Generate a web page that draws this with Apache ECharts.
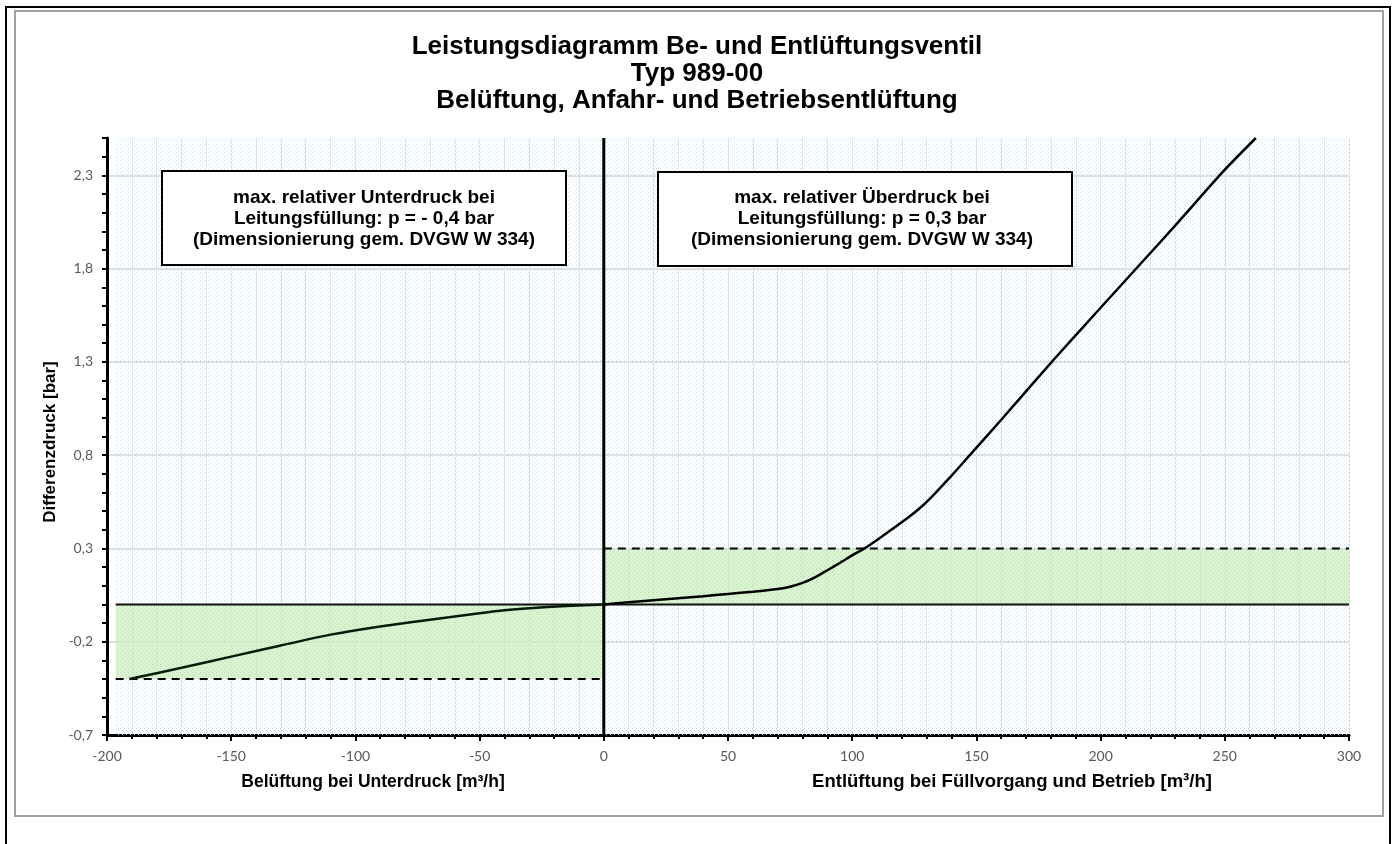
<!DOCTYPE html>
<html>
<head>
<meta charset="utf-8">
<title>Leistungsdiagramm Typ 989-00</title>
<script src="https://cdn.jsdelivr.net/npm/echarts@6/dist/echarts.min.js"></script>
<style>
  html, body { margin: 0; padding: 0; background: #fff; }
  #main { width: 1394px; height: 844px; }
</style>
</head>
<body>
<div id="main"></div>
<script>
// Belüftung (Unterdruck): Volumenstrom [m³/h] und Differenzdruck [bar]
var BELUEFTUNG_Q  = [-191, -170, -150, -130, -110, -90, -70, -50, -40, -30, -15, 0];
var BELUEFTUNG_DP = [-0.40, -0.34, -0.28, -0.22, -0.162, -0.118, -0.082, -0.047, -0.031, -0.02, -0.008, 0];

// Entlüftung (Füllvorgang und Betrieb)
var ENTLUEFTUNG_Q  = [0, 10, 20, 30, 40, 50, 60, 70, 75, 80, 85, 90, 95, 100, 105, 110, 115, 122, 128, 133, 140, 146, 160, 181, 200, 215, 230, 250, 262.5];
var ENTLUEFTUNG_DP = [0, 0.011, 0.022, 0.033, 0.044, 0.056, 0.068, 0.083, 0.095, 0.115, 0.145, 0.183, 0.222, 0.263, 0.3, 0.345, 0.393, 0.46, 0.525, 0.59, 0.69, 0.78, 0.99, 1.31, 1.59, 1.81, 2.03, 2.33, 2.5];

// Grenzwerte nach DVGW W 334
var P_UNTERDRUCK = -0.4;
var P_UEBERDRUCK = 0.3;

// Achsen
var X_MIN = -200, X_MAX = 300, X_FILL_START = -196.5;
var Y_MIN = -0.7, Y_MAX = 2.5;
var Y_TICK_LABELS = [-0.7, -0.2, 0.3, 0.8, 1.3, 1.8, 2.3];

var TEXT_FONT = '"Liberation Sans", Arial, sans-serif';
var TICK_FONT = 'Lato, "Open Sans", sans-serif';

function zip(a, b) {
  var out = [];
  for (var i = 0; i < a.length; i++) out.push([a[i], b[i]]);
  return out;
}

// Punktraster wie im Excel-Muster
function dotPattern(bg, dot) {
  var c = document.createElement('canvas');
  c.width = 4; c.height = 4;
  var ctx = c.getContext('2d');
  if (bg) { ctx.fillStyle = bg; ctx.fillRect(0, 0, 4, 4); }
  ctx.fillStyle = dot;
  ctx.fillRect(0, 0, 1, 1);
  ctx.fillRect(2, 2, 1, 1);
  return { image: c, repeat: 'repeat' };
}
var bluePattern = dotPattern(null, '#bfe5f4');
var greenPattern = dotPattern('rgba(205,240,192,0.7)', 'rgba(150,215,130,0.55)');

var chart = echarts.init(document.getElementById('main'));

var option = {
  backgroundColor: '#fff',
  animation: false,
  title: {
    text: 'Leistungsdiagramm Be- und Entlüftungsventil\nTyp 989-00\nBelüftung, Anfahr- und Betriebsentlüftung',
    left: 'center',
    top: 28,
    textStyle: {
      fontFamily: TEXT_FONT,
      fontWeight: 'bold',
      fontSize: 26,
      lineHeight: 27,
      color: '#000'
    }
  },
  grid: { left: 107, right: 45, top: 138, bottom: 109 },
  xAxis: {
    type: 'value',
    min: X_MIN,
    max: X_MAX,
    interval: 50,
    axisLine: { onZero: false, lineStyle: { color: '#000', width: 3 } },
    axisTick: { show: true, length: 6, lineStyle: { color: '#000', width: 2 } },
    minorTick: { show: true, splitNumber: 5, length: 4, lineStyle: { color: '#000', width: 2 } },
    splitLine: { show: true, lineStyle: { color: '#e4e4e4', width: 1 } },
    minorSplitLine: { show: true, lineStyle: { color: '#e4e4e4', width: 1 } },
    axisLabel: {
      margin: 14,
      color: '#595959',
      fontFamily: TICK_FONT,
      fontSize: 14
    }
  },
  yAxis: {
    type: 'value',
    min: Y_MIN,
    max: Y_MAX,
    interval: 0.1,
    axisLine: { onZero: false, lineStyle: { color: '#000', width: 3 } },
    axisTick: { show: true, length: 5, lineStyle: { color: '#000', width: 2 } },
    splitLine: {
      show: true,
      lineStyle: { color: ['#d4d4d4', 'transparent', 'transparent', 'transparent', 'transparent'], width: 1.5 }
    },
    axisLabel: {
      margin: 14,
      color: '#595959',
      fontFamily: TICK_FONT,
      fontSize: 14,
      formatter: function (v) {
        for (var i = 0; i < Y_TICK_LABELS.length; i++) {
          if (Math.abs(Y_TICK_LABELS[i] - v) < 1e-6) return v.toFixed(1).replace('.', ',');
        }
        return '';
      }
    }
  },
  series: [
    {
      name: 'Nulllinie',
      type: 'line',
      data: [[X_FILL_START, 0], [X_MAX, 0]],
      symbol: 'none',
      lineStyle: { color: '#111', width: 2 },
      silent: true,
      markArea: {
        silent: true,
        data: [
          [{ coord: [X_FILL_START, Y_MIN], itemStyle: { color: bluePattern } }, { coord: [X_MAX, Y_MAX] }],
          [{ coord: [X_FILL_START, P_UNTERDRUCK], itemStyle: { color: greenPattern } }, { coord: [0, 0] }],
          [{ coord: [0, 0], itemStyle: { color: greenPattern } }, { coord: [X_MAX, P_UEBERDRUCK] }]
        ]
      }
    },
    {
      name: 'Grenze Unterdruck',
      type: 'line',
      data: [[X_FILL_START, P_UNTERDRUCK], [0, P_UNTERDRUCK]],
      symbol: 'none',
      lineStyle: { color: '#000', width: 2, type: [8, 6] }
    },
    {
      name: 'Grenze Überdruck',
      type: 'line',
      data: [[0, P_UEBERDRUCK], [X_MAX, P_UEBERDRUCK]],
      symbol: 'none',
      lineStyle: { color: '#000', width: 2, type: [8, 6] }
    },
    {
      name: 'Achse 0',
      type: 'line',
      data: [[0, Y_MIN], [0, Y_MAX]],
      symbol: 'none',
      lineStyle: { color: '#000', width: 3 }
    },
    {
      name: 'Belüftung',
      type: 'line',
      data: zip(BELUEFTUNG_Q, BELUEFTUNG_DP),
      symbol: 'none',
      smooth: 0.2,
      lineStyle: { color: '#0a1a0a', width: 2.5 }
    },
    {
      name: 'Entlüftung',
      type: 'line',
      data: zip(ENTLUEFTUNG_Q, ENTLUEFTUNG_DP),
      symbol: 'none',
      smooth: 0.2,
      lineStyle: { color: '#000', width: 2.5 }
    }
  ],
  graphic: [
    // Rahmen
    { type: 'rect', z: 100, shape: { x: 6, y: 7, width: 1384, height: 850 }, style: { fill: 'none', stroke: '#000', lineWidth: 2 }, silent: true },
    { type: 'rect', z: 100, shape: { x: 15, y: 11, width: 1368, height: 805 }, style: { fill: 'none', stroke: '#a0a0a0', lineWidth: 2 }, silent: true },
    // Achsentitel
    {
      type: 'text', z: 100, x: 50, y: 442, rotation: Math.PI / 2,
      style: { text: 'Differenzdruck [bar]', font: 'bold 17px ' + TEXT_FONT, fill: '#000', align: 'center', verticalAlign: 'middle' }
    },
    {
      type: 'text', z: 100, x: 373, y: 782,
      style: { text: 'Belüftung bei Unterdruck [m³/h]', font: 'bold 17.5px ' + TEXT_FONT, fill: '#000', align: 'center', verticalAlign: 'middle' }
    },
    {
      type: 'text', z: 100, x: 1012, y: 782,
      style: { text: 'Entlüftung bei Füllvorgang und Betrieb [m³/h]', font: 'bold 18.5px ' + TEXT_FONT, fill: '#000', align: 'center', verticalAlign: 'middle' }
    },
    // Hinweisboxen
    { type: 'rect', z: 100, shape: { x: 162, y: 171, width: 404, height: 94 }, style: { fill: '#fff', stroke: '#000', lineWidth: 2 } },
    {
      type: 'text', z: 101, x: 364, y: 219,
      style: {
        text: 'max. relativer Unterdruck bei\nLeitungsfüllung: p = - 0,4 bar\n(Dimensionierung gem. DVGW W 334)',
        font: 'bold 19px ' + TEXT_FONT, lineHeight: 21, fill: '#000', align: 'center', verticalAlign: 'middle'
      }
    },
    { type: 'rect', z: 100, shape: { x: 658, y: 172, width: 414, height: 94 }, style: { fill: '#fff', stroke: '#000', lineWidth: 2 } },
    {
      type: 'text', z: 101, x: 862, y: 219,
      style: {
        text: 'max. relativer Überdruck bei\nLeitungsfüllung: p = 0,3 bar\n(Dimensionierung gem. DVGW W 334)',
        font: 'bold 19px ' + TEXT_FONT, lineHeight: 21, fill: '#000', align: 'center', verticalAlign: 'middle'
      }
    }
  ]
};

chart.setOption(option);
</script>
</body>
</html>
